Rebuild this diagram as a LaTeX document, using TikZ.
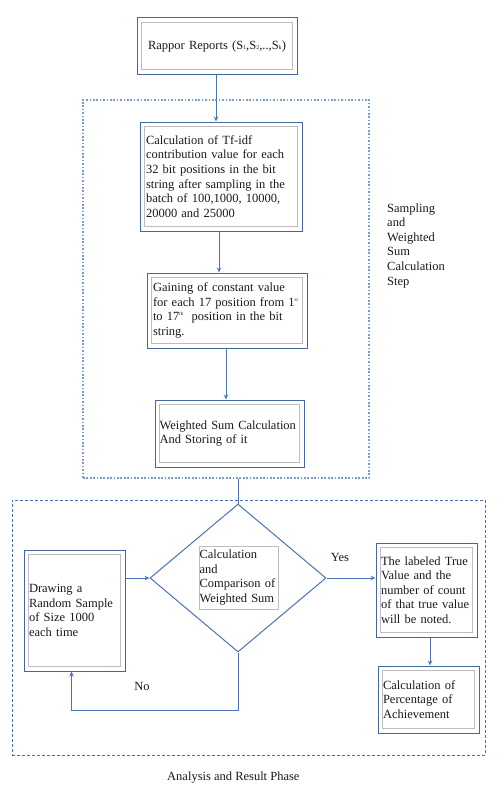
\documentclass[tikz,border=0pt]{standalone}
\usepackage{fontspec}
\setmainfont{Liberation Serif}
\usetikzlibrary{shapes.geometric,arrows.meta}
\definecolor{bc}{HTML}{41689F}
\definecolor{lc}{HTML}{4A74B4}
\definecolor{gc}{HTML}{BDBDBD}
\definecolor{dca}{HTML}{7A9BCC}
\definecolor{dcb}{HTML}{4470B0}
\definecolor{tc}{HTML}{1A1A1A}
\newcommand{\supx}[1]{\raisebox{0.9ex}{\fontsize{5}{5}\selectfont #1}}
\newcommand{\subx}[1]{\raisebox{-0.15ex}{\fontsize{6}{6}\selectfont #1}}
\begin{document}
\begin{tikzpicture}[x=1pt,y=-1pt, font=\fontsize{12.5}{14.6}\selectfont, text=tc,
  boxx/.style={draw=bc, line width=1pt, align=left, inner xsep=6pt, inner ysep=0pt},
  inbox/.style={draw=gc, line width=0.9pt},
  arr/.style={draw=lc, line width=1pt, -{Stealth[length=5pt,width=4.5pt]}},
  ln/.style={draw=lc, line width=1pt},
  lbl/.style={inner sep=0pt, align=left}]
\useasboundingbox[fill=white] (0,0) rectangle (498,808);

% group frames
\node[draw=dca, line width=1.6pt, dash pattern=on 1.7pt off 1.7pt, minimum width=286pt, minimum height=378pt, inner sep=0pt] (sbox) at (226,289) {};
\node[draw=dcb, line width=1pt, dash pattern=on 3pt off 2pt, minimum width=473pt, minimum height=255pt, inner sep=0pt] (abox) at (248.5,627.5) {};

% boxes
\node[boxx, align=center, inner xsep=2pt, minimum width=160pt, minimum height=56pt, text width=156pt] (rap) at (217,46)
  {Rappor Reports (S\subx{1},S\subx{2},..,S\subx{k})};
\node[boxx, minimum width=162pt, minimum height=109pt, text width=150pt] (tf) at (221,176.5)
  {Calculation of Tf-idf\\contribution value for each\\32 bit positions in the bit\\string after sampling in the\\batch of 100,1000, 10000,\\20000 and 25000};
\node[boxx, minimum width=160pt, minimum height=75pt, text width=148pt] (gain) at (227,310.5)
  {Gaining of constant value\\for each 17 position from 1\supx{st}\\to 17\supx{th}\ \ position in the bit\\string.};
\node[boxx, minimum width=149pt, minimum height=67pt, text width=140pt, inner xsep=4.5pt] (ws) at (229.5,433.5)
  {Weighted Sum Calculation\\And Storing of it};
\node[boxx, minimum width=101pt, minimum height=121pt, text width=91pt, inner xsep=5pt] (drw) at (74.5,610.5)
  {Drawing a\\Random Sample\\of Size 1000\\each time};
\node[boxx, minimum width=101pt, minimum height=94pt, text width=91pt, inner xsep=5pt] (tru) at (426.5,590)
  {The labeled True\\Value and the\\number of count\\of that true value\\will be noted.};
\node[boxx, minimum width=101pt, minimum height=67pt, text width=91pt, inner xsep=5pt] (pct) at (428.5,699.5)
  {Calculation of\\Percentage of\\Achievement};

\foreach \n in {rap,tf,gain,ws,drw,tru,pct}
  \draw[inbox] ([xshift=5pt,yshift=-5pt]\n.north west) rectangle ([xshift=-5pt,yshift=5pt]\n.south east);

% decision
\node[draw=lc, line width=1pt, diamond, minimum width=176pt, minimum height=148pt, inner sep=0pt] (dia) at (238,578) {};
\node[draw=gc, line width=0.9pt, align=left, text width=78pt, inner xsep=0.5pt, inner ysep=0pt, minimum width=79pt, minimum height=63pt] (cmp) at (238.5,577.5)
  {Calculation\\and\\Comparison of\\Weighted Sum};

% connectors
\draw[arr] (rap.south -| 216,0) -- (216,0 |- tf.north);
\draw[arr] (219,0 |- tf.south) -- (219,0 |- gain.north);
\draw[arr] (226,0 |- gain.south) -- (226,0 |- ws.north);
\draw[ln] (dia.north |- sbox.south) -- (dia.north);
\draw[arr] (drw.east |- dia.west) -- (dia.west);
\draw[arr] (dia.east) -- (tru.west |- dia.east);
\draw[arr] (430,0 |- tru.south) -- (430,0 |- pct.north);
\coordinate (lp) at (239,710);
\draw[arr] (dia.south) -- (dia.south |- lp) -| ([xshift=-3pt]drw.south);

% labels
\node[lbl] (yes) at (340,557) {Yes};
\node[lbl] (no) at (142,686) {No};
\node[lbl, anchor=west] (slab) at (387,245.5) {Sampling\\and\\Weighted\\Sum\\Calculation\\Step};
\node[lbl, anchor=west] (alab) at (167,778) {Analysis and Result Phase};
\end{tikzpicture}
\end{document}
